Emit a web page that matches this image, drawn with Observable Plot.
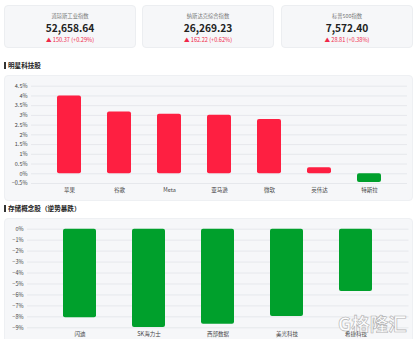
<!DOCTYPE html>
<html><head><meta charset="utf-8">
<script src="https://cdn.jsdelivr.net/npm/d3@7"></script>
<script src="https://cdn.jsdelivr.net/npm/@observablehq/plot@0.6"></script>
<style>
body{margin:0;width:415px;height:339px;background:#fff;font-family:"Noto Sans CJK SC","Noto Sans",sans-serif;position:relative;overflow:hidden}
.card{position:absolute;top:5px;height:43px;width:132px;background:#f6f7f9;border:1px solid #eceef1;border-radius:4px;text-align:center;box-sizing:border-box}
.card .t{position:absolute;top:6px;left:0;right:0;font-size:5.3px;color:#777;line-height:8px}
.card .v{position:absolute;top:16px;left:0;right:0;font-size:10.2px;color:#222;line-height:12px;font-weight:600}
.card .c{position:absolute;top:30px;left:0;right:0;font-size:5.6px;color:#f0284a;line-height:8px}
.sec{position:absolute;left:8px;font-size:6.6px;font-weight:bold;color:#222;line-height:9px}
.sec::before{content:"";position:absolute;left:-4px;top:1px;width:1.6px;height:7px;background:#333}
.panel{position:absolute;left:4px;width:409px;background:#f6f7f9;border:1px solid #eef0f3;border-radius:4px;box-sizing:border-box}
.plot{position:absolute;left:0}
.wm{position:absolute;left:338px;top:310px;font-size:18.5px;line-height:26px;white-space:nowrap;font-weight:bold;color:rgba(255,255,255,0.85);-webkit-text-stroke:0.6px #b0b0b0}
</style></head>
<body>
<div id="cards"></div>
<div class="sec" style="top:61px">明星科技股</div>
<div class="panel" style="top:75px;height:126px"></div>
<div class="plot" id="p1" style="top:75px"></div>
<div class="sec" style="top:204px">存储概念股（逆势暴跌）</div>
<div class="panel" style="top:218px;height:130px"></div>
<div class="plot" id="p2" style="top:218px"></div>
<div class="wm">G格隆汇</div>
<script>
const indexNames = ["道琼斯工业指数", "纳斯达克综合指数", "标普500指数"];
const indexValues = ["52,658.64", "26,269.23", "7,572.40"];
const indexChanges = ["150.37", "162.22", "28.81"];
const indexPcts = ["+0.29%", "+0.62%", "+0.38%"];

const techNames = ["苹果", "谷歌", "Meta", "亚马逊", "微软", "英伟达", "特斯拉"];
const techValues = [4.0, 3.17, 3.06, 3.01, 2.79, 0.31, -0.45];
const techTicks = [-0.5, 0, 0.5, 1, 1.5, 2, 2.5, 3, 3.5, 4, 4.5];

const memNames = ["闪迪", "SK海力士", "西部数据", "美光科技", "希捷科技"];
const memValues = [-8.09, -8.97, -8.67, -7.97, -5.69];
const memTicks = [0, -1, -2, -3, -4, -5, -6, -7, -8, -9];

const RED = "#fe1f41", GREEN = "#00a02c";

const cardLefts = [4, 142, 281];
const cards = document.getElementById("cards");
indexNames.forEach((n, i) => {
  const d = document.createElement("div");
  d.className = "card";
  d.style.left = cardLefts[i] + "px";
  d.innerHTML = `<div class="t">${n}</div><div class="v">${indexValues[i]}</div><div class="c">▲ ${indexChanges[i]} (${indexPcts[i]})</div>`;
  cards.appendChild(d);
});

const tech = techNames.map((name, i) => ({name, value: techValues[i]}));
const mem = memNames.map((name, i) => ({name, value: memValues[i]}));
const fmt = d => String(d).replace("-", "−") + "%";

const p1 = Plot.plot({
  width: 415, height: 126,
  marginTop: 10.7, marginBottom: 18, marginLeft: 31, marginRight: 8,
  style: {background: "transparent", fontFamily: "Noto Sans CJK SC, sans-serif", fontSize: "5.5px", color: "#444"},
  x: {domain: techNames, padding: 0.52, label: null, tickSize: 0, tickPadding: 5},
  y: {domain: [-0.5, 4.5], ticks: techTicks, tickFormat: fmt, label: null, tickSize: 0, tickPadding: 4},
  marks: [
    Plot.gridY(techTicks, {stroke: "#e6e8ec", strokeOpacity: 1}),
    Plot.barY(tech, {x: "name", y: "value", fill: d => d.value >= 0 ? RED : GREEN, rx: 2})
  ]
});
document.getElementById("p1").appendChild(p1);

const p2 = Plot.plot({
  width: 415, height: 121,
  marginTop: 10.7, marginBottom: 11.7, marginLeft: 27, marginRight: 6.5,
  style: {background: "transparent", fontFamily: "Noto Sans CJK SC, sans-serif", fontSize: "5.5px", color: "#444"},
  x: {domain: memNames, padding: 0.52, label: null, tickSize: 0, tickPadding: 4},
  y: {domain: [-9, 0], ticks: memTicks, tickFormat: fmt, label: null, tickSize: 0, tickPadding: 4},
  marks: [
    Plot.gridY(memTicks, {stroke: "#e6e8ec", strokeOpacity: 1}),
    Plot.barY(mem, {x: "name", y: "value", fill: GREEN, rx: 2})
  ]
});
document.getElementById("p2").appendChild(p2);
</script>
</body></html>
